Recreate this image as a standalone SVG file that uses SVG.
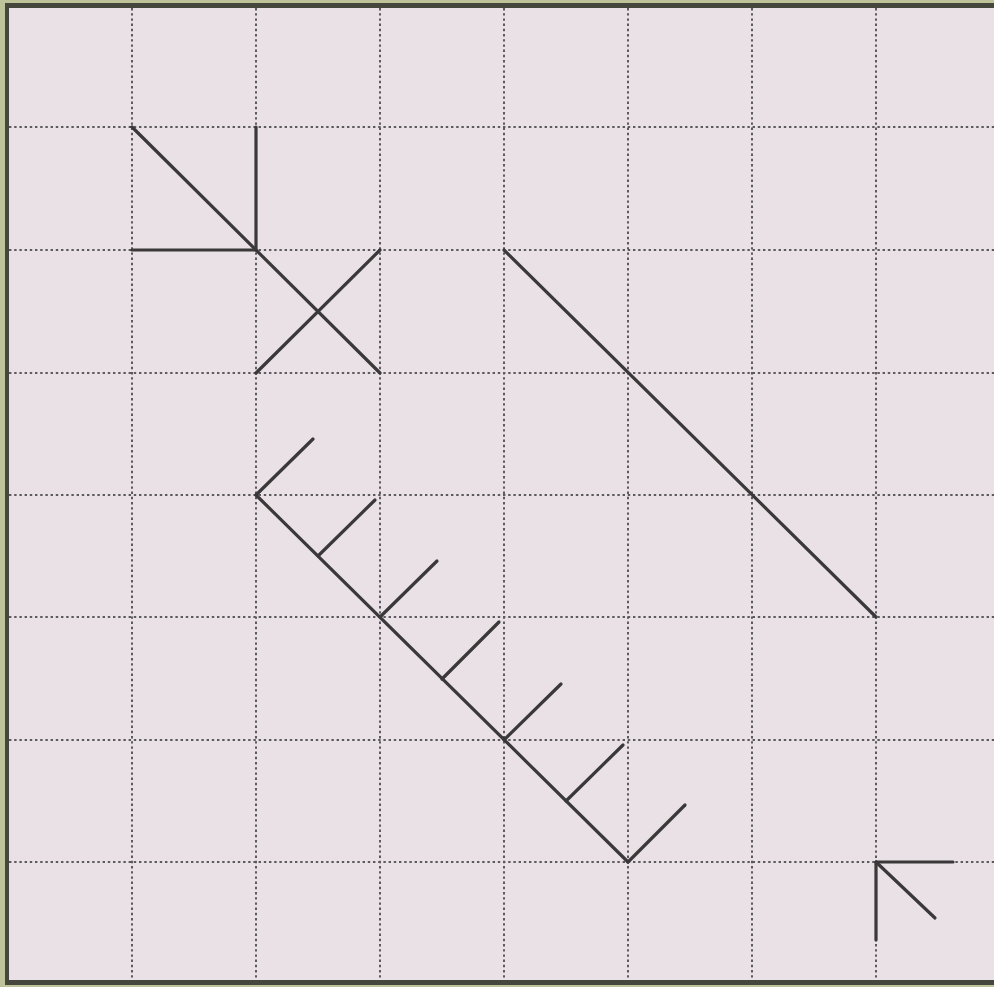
<svg xmlns="http://www.w3.org/2000/svg" width="994" height="987" viewBox="0 0 994 987">
<style>
.grid{stroke:#5c5a60;stroke-width:2;stroke-dasharray:2.4 2.8;fill:none}
.ln{stroke:#3a3838;stroke-width:3.2;stroke-linecap:round;fill:none}
</style>
<rect x="0" y="0" width="994" height="987" fill="#bfc39a"/>
<rect x="5" y="3" width="995" height="982" fill="#45463c"/>
<rect x="9" y="8" width="990" height="972" fill="#e9e1e5"/>
<g id="grid" class="grid">
<line x1="132" y1="8" x2="132" y2="980"/>
<line x1="256" y1="8" x2="256" y2="980"/>
<line x1="380" y1="8" x2="380" y2="980"/>
<line x1="504" y1="8" x2="504" y2="980"/>
<line x1="628" y1="8" x2="628" y2="980"/>
<line x1="752" y1="8" x2="752" y2="980"/>
<line x1="876" y1="8" x2="876" y2="980"/>
<line x1="9" y1="127" x2="994" y2="127"/>
<line x1="9" y1="250" x2="994" y2="250"/>
<line x1="9" y1="373" x2="994" y2="373"/>
<line x1="9" y1="495" x2="994" y2="495"/>
<line x1="9" y1="617" x2="994" y2="617"/>
<line x1="9" y1="740" x2="994" y2="740"/>
<line x1="9" y1="862" x2="994" y2="862"/>
</g>
<g id="connectors" class="ln">
<g id="shape1">
<line x1="132" y1="127" x2="380" y2="373"/>
<line x1="256" y1="127" x2="256" y2="250"/>
<line x1="132" y1="250" x2="256" y2="250"/>
<line x1="256" y1="373" x2="380" y2="250"/>
</g>
<g id="shape2">
<line x1="504" y1="250" x2="876" y2="617"/>
</g>
<g id="shape3">
<line x1="256" y1="495" x2="628" y2="862"/>
<line x1="256" y1="495" x2="313" y2="439"/>
<line x1="318" y1="556" x2="375" y2="500"/>
<line x1="380" y1="617" x2="437" y2="561"/>
<line x1="442" y1="679" x2="499" y2="622"/>
<line x1="504" y1="740" x2="561" y2="684"/>
<line x1="566" y1="801" x2="623" y2="745"/>
<line x1="628" y1="862" x2="685" y2="805"/>
</g>
<g id="shape4">
<line x1="876" y1="862" x2="953" y2="862"/>
<line x1="876" y1="862" x2="876" y2="940"/>
<line x1="876" y1="862" x2="935" y2="918"/>
</g>
</g>
</svg>
